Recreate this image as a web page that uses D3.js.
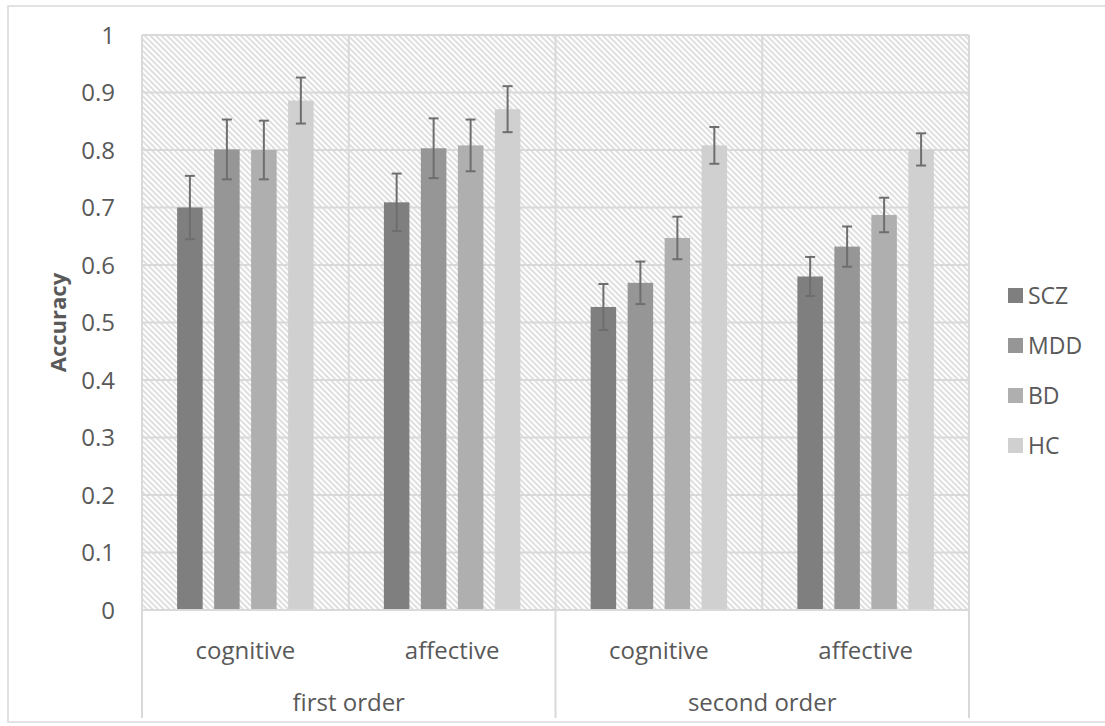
<!DOCTYPE html>
<html>
<head>
<meta charset="utf-8">
<script src="https://cdn.jsdelivr.net/npm/d3@7"></script>
<style>
  body { margin: 0; background: #fff; }
  text { font-family: "Open Sans", "Noto Sans", sans-serif; fill: #595959; }
</style>
</head>
<body>
<svg id="chart" width="1105" height="726"></svg>
<script>
// data
const groups = ["first order", "second order"];
const categories = ["cognitive", "affective", "cognitive", "affective"];
const series = ["SCZ", "MDD", "BD", "HC"];
const colors = ["#7f7f7f", "#969696", "#afafaf", "#d0d0d0"];
const means = [
  [0.700, 0.801, 0.800, 0.886],
  [0.709, 0.803, 0.808, 0.871],
  [0.527, 0.569, 0.647, 0.808],
  [0.580, 0.632, 0.687, 0.801]
];
const errs = [
  [0.055, 0.052, 0.051, 0.040],
  [0.050, 0.052, 0.045, 0.040],
  [0.040, 0.037, 0.037, 0.032],
  [0.034, 0.035, 0.030, 0.028]
];
const yTicks = [0, 0.1, 0.2, 0.3, 0.4, 0.5, 0.6, 0.7, 0.8, 0.9, 1];

const svg = d3.select("#chart");
const plotLeft = 142, plotRight = 969, plotTop = 35, plotBottom = 610;

// outer frame
svg.append("rect")
   .attr("x", 8).attr("y", 6)
   .attr("width", 1105).attr("height", 716)
   .attr("fill", "none")
   .attr("stroke", "#d9d9d9")
   .attr("stroke-width", 1.5);

// hatch pattern for plot background
const pat = svg.append("defs").append("pattern")
   .attr("id", "hatch")
   .attr("patternUnits", "userSpaceOnUse")
   .attr("width", 4).attr("height", 4)
   .attr("patternTransform", "rotate(-45)");
pat.append("rect").attr("width", 4).attr("height", 4).attr("fill", "#fff");
pat.append("line")
   .attr("x1", 1).attr("y1", 0).attr("x2", 1).attr("y2", 4)
   .attr("stroke", "#d2d2d2").attr("stroke-width", 1.4);

const x0 = d3.scaleBand()
             .domain(d3.range(categories.length))
             .range([plotLeft, plotRight]);

const x1 = d3.scaleBand()
             .domain(series)
             .range([0, x0.bandwidth()])
             .paddingInner(0.31)
             .paddingOuter(0.95);

const y = d3.scaleLinear()
            .domain([0, 1])
            .range([plotBottom, plotTop]);

svg.append("rect")
   .attr("x", plotLeft).attr("y", plotTop)
   .attr("width", plotRight - plotLeft).attr("height", plotBottom - plotTop)
   .attr("fill", "url(#hatch)");

// horizontal gridlines
svg.append("g")
   .selectAll("line")
   .data(yTicks)
   .join("line")
   .attr("x1", plotLeft).attr("x2", plotRight)
   .attr("y1", d => y(d)).attr("y2", d => y(d))
   .attr("stroke", "#d9d9d9")
   .attr("stroke-width", 2);

// vertical gridlines at category edges
svg.append("g")
   .selectAll("line")
   .data(d3.range(categories.length + 1))
   .join("line")
   .attr("x1", i => plotLeft + i * x0.step())
   .attr("x2", i => plotLeft + i * x0.step())
   .attr("y1", plotTop)
   .attr("y2", i => (i % 2 === 0) ? 718 : plotBottom)
   .attr("stroke", "#d9d9d9")
   .attr("stroke-width", 2);

// y tick labels
svg.append("g")
   .selectAll("text")
   .data(yTicks)
   .join("text")
   .attr("x", 115)
   .attr("y", d => y(d))
   .attr("dy", "0.36em")
   .attr("text-anchor", "end")
   .style("font-size", "24px")
   .text(d => d3.format("")(d));

svg.append("text")
   .attr("transform", "translate(58," + (plotTop + plotBottom) / 2 + ") rotate(-90)")
   .attr("dy", "0.36em")
   .attr("text-anchor", "middle")
   .style("font-size", "22px")
   .style("font-weight", "bold")
   .text("Accuracy");

// bars
const cat = svg.append("g")
               .selectAll("g")
               .data(means)
               .join("g")
               .attr("transform", (d, i) => "translate(" + x0(i) + ",0)");

cat.selectAll("rect")
   .data(d => d)
   .join("rect")
   .attr("x", (d, j) => x1(series[j]))
   .attr("y", d => y(d))
   .attr("width", x1.bandwidth())
   .attr("height", d => y(0) - y(d))
   .attr("fill", (d, j) => colors[j]);

// error bars
cat.each(function (row, i) {
    const g = d3.select(this);
    row.forEach((m, j) => {
        const cx = x1(series[j]) + x1.bandwidth() / 2;
        const e = errs[i][j];
        g.append("line")
         .attr("x1", cx).attr("x2", cx)
         .attr("y1", y(m + e)).attr("y2", y(m - e))
         .attr("stroke", "#6e6e6e").attr("stroke-width", 2);
        [m + e, m - e].forEach(v => {
            g.append("line")
             .attr("x1", cx - 5).attr("x2", cx + 5)
             .attr("y1", y(v)).attr("y2", y(v))
             .attr("stroke", "#6e6e6e").attr("stroke-width", 2);
        });
    });
});

// axis baseline
svg.append("line")
   .attr("x1", plotLeft).attr("x2", plotRight)
   .attr("y1", plotBottom).attr("y2", plotBottom)
   .attr("stroke", "#d9d9d9").attr("stroke-width", 2);

// category labels
svg.append("g")
   .selectAll("text")
   .data(categories)
   .join("text")
   .attr("x", (d, i) => x0(i) + x0.bandwidth() / 2)
   .attr("y", 659)
   .attr("text-anchor", "middle")
   .style("font-size", "24px")
   .text(d => d);

svg.append("g")
   .selectAll("text")
   .data(groups)
   .join("text")
   .attr("x", (d, i) => x0(i * 2 + 1))
   .attr("y", 711)
   .attr("text-anchor", "middle")
   .style("font-size", "24px")
   .text(d => d);

// legend
const leg = svg.append("g")
               .selectAll("g")
               .data(series)
               .join("g")
               .attr("transform", (d, i) => "translate(1008," + (288 + i * 50) + ")");

leg.append("rect")
   .attr("width", 15).attr("height", 15)
   .attr("fill", (d, i) => colors[i]);

leg.append("text")
   .attr("x", 20)
   .attr("y", 8)
   .attr("dy", "0.36em")
   .style("font-size", "23px")
   .text(d => d);
</script>
</body>
</html>
